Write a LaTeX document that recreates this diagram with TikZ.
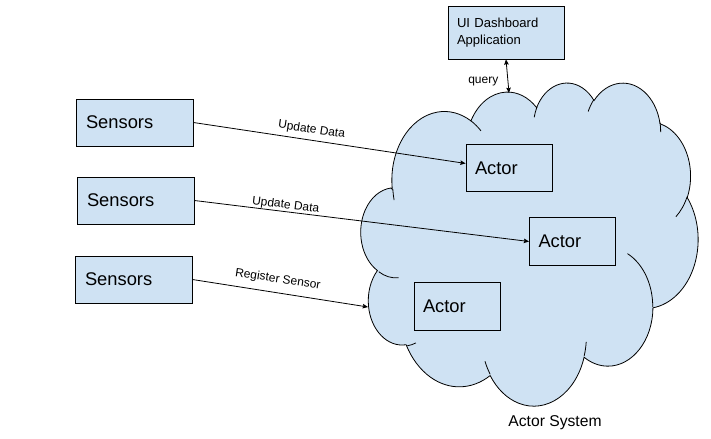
\documentclass[tikz,border=0pt]{standalone}
\usepackage{fontspec}
\setmainfont{Liberation Sans}
\usepackage[dvipsnames]{xcolor}
\usepackage{tikz}
\usetikzlibrary{arrows.meta}

%one lobe of the cloud: x radius, y radius, start angle, sweep (angles as seen on the ellipse)
\newcommand{\cloudarc}[4]{arc [x radius=#1, y radius=#2, start angle={atan2(#1*sin(#3),#2*cos(#3))}, delta angle={mod(atan2(#1*sin(#3+#4),#2*cos(#3+#4))-atan2(#1*sin(#3),#2*cos(#3))+720,360)}]}

\begin{document}
\begin{tikzpicture}[x=0.75pt,y=0.75pt,yscale=-1,xscale=1,
  box/.style={draw, line width=0.6pt, fill={rgb, 255:red, 207; green, 226; blue, 243}, inner xsep=7.5pt, align=left, font=\fontsize{13.75}{16}\selectfont},
  sensorbox/.style={box, text width=72.75pt, minimum height=35.25pt},
  actorbox/.style={box, inner xsep=6.75pt, text width=51pt, minimum height=35.5pt},
  >={Stealth[length=4pt,width=3.4pt,inset=0.6pt]},
  flow/.style={line width=0.6pt, ->},
  lbl/.style={font=\fontsize{9}{10}\selectfont, inner sep=1pt}]
%uncomment if require: \path (0,439); %set diagram left start at 0, and has height of 439
\useasboundingbox (0,0) rectangle (711,439);

%Shape: Cloud
\begin{scope}[shift={(362,82)}, x=0.58333pt, y=0.56076pt]
\draw [line width=0.6pt, fill={rgb, 255:red, 207; green, 226; blue, 243}] (39.00,143.70) \cloudarc{67.53}{91.90}{-190.4875}{123.7805} \cloudarc{53.33}{72.67}{-144.1024}{89.9452} \cloudarc{43.65}{59.45}{-145.8079}{99.7230} \cloudarc{48.57}{65.95}{-130.9861}{117.2417} \cloudarc{53.33}{72.73}{-78.7089}{109.0269} \cloudarc{67.75}{92.20}{-46.2673}{130.2690} \cloudarc{57.85}{78.67}{0.6250}{114.0333} \cloudarc{67.52}{92.15}{22.4516}{115.1726} \cloudarc{77.20}{105.43}{66.2426}{78.0370} \cloudarc{43.60}{59.18}{-274.9421}{146.7356} \cloudarc{43.45}{59.45}{-246.8285}{152.5189} -- cycle;
\draw [line width=0.6pt] (46.93,261.77) \cloudarc{43.45}{59.45}{86.7420}{26.4295}
  (69.28,348.99) \cloudarc{43.60}{59.18}{73.6105}{11.4475}
  (164.78,390.90) \cloudarc{67.52}{92.15}{137.6242}{14.0811}
  (288.27,347.51) \cloudarc{67.52}{92.15}{6.4533}{15.9984}
  (341.29,229.54) \cloudarc{57.85}{78.67}{-70.2924}{70.9174}
  (417.98,153.54) \cloudarc{53.33}{72.73}{30.3180}{27.7515}
  (383.24,54.26) \cloudarc{48.57}{65.95}{-13.7443}{14.8589}
  (290.78,39.52) \cloudarc{48.57}{65.95}{-149.1815}{18.1954}
  (221.41,47.20) \cloudarc{43.65}{59.45}{-163.4943}{17.6864}
  (140.00,51.92) \cloudarc{67.53}{91.90}{-66.7070}{12.3194}
  (41.27,157.89) \cloudarc{67.53}{91.90}{162.2027}{11.8582};
\end{scope}

% Text Node
\node [sensorbox] (s1) at (134.5,122.5) {Sensors};
\node [sensorbox] (s2) at (135.5,200.5) {Sensors};
\node [sensorbox] (s3) at (133.5,279.5) {Sensors};
% Text Node
\node [actorbox] (a1) at (509,168) {Actor};
\node [actorbox] (a2) at (572.5,241.5) {Actor};
\node [actorbox] (a3) at (457,306.5) {Actor};
% Text Node
\node [box, inner xsep=6.75pt, text width=73.5pt, minimum height=39.75pt, font=\fontsize{9.8}{12.75}\selectfont] (ui) at (506,32.5) {UI Dashboard\\Application};
% Text Node
\node [font=\fontsize{11.75}{14}\selectfont] (sys) at (555,423) {Actor System};

\coordinate (reg) at (368,307);
\coordinate (top) at (509,93);

%Straight Lines
\draw [flow] (s1.east) -- node [lbl, above=2.25pt, rotate=-8.6, pos=0.43] {Update Data} (a1.174);
%Straight Lines
\draw [flow] (s2.east) -- node [lbl, above=-0.75pt, rotate=-7, pos=0.27] {Update Data} (a2.west);
%Straight Lines
\draw [flow] (s3.east) -- node [lbl, above=4.5pt, rotate=-8.5, pos=0.48] {Register Sensor} (reg);
%Straight Lines
\draw [flow, <->] (ui.south) -- node [lbl, left=6pt, pos=0.67] {query} (top);

\end{tikzpicture}
\end{document}
